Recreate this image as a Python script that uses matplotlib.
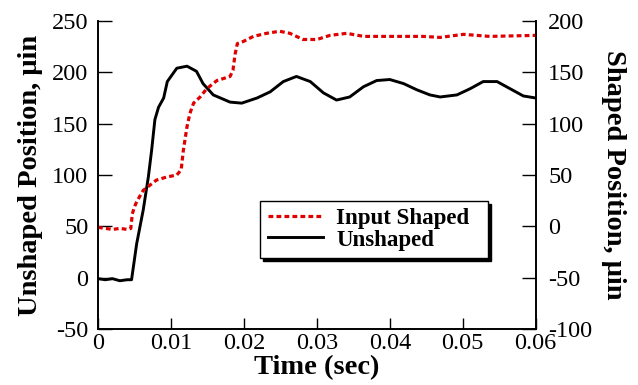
import matplotlib
matplotlib.use("Agg")
import matplotlib.pyplot as plt

plt.rcParams['font.family'] = ['Liberation Serif', 'DejaVu Serif']

# Unshaped response (left axis, micro-inches)
t_unshaped = [0, 0.001, 0.002, 0.003, 0.004, 0.0046, 0.0053, 0.0062, 0.0069, 0.00735,
              0.0078, 0.0083, 0.009, 0.0095, 0.0108, 0.0122, 0.0135, 0.0144, 0.0158,
              0.0181, 0.0197, 0.0218, 0.0236, 0.0254, 0.0272, 0.0291, 0.0309, 0.0327,
              0.0345, 0.0364, 0.0382, 0.04, 0.0419, 0.0437, 0.0455, 0.0469, 0.0492,
              0.051, 0.0528, 0.0547, 0.0565, 0.0583, 0.06]
y_unshaped = [-1, -2, -1, -3, -2, -2, 33, 66, 98, 124, 154, 166, 175, 191, 204, 206,
              201, 189, 178, 171, 170, 175, 181, 191, 196, 191, 180, 173, 176, 186,
              192, 193, 189, 183, 178, 176, 178, 184, 191, 191, 184, 177, 175]

# Input shaped response (right axis, micro-inches)
t_shaped = [0, 0.001, 0.002, 0.003, 0.004, 0.0045, 0.0047, 0.0050, 0.0053, 0.0062,
            0.0071, 0.0080, 0.0094, 0.0108, 0.0114, 0.0117, 0.0122, 0.0126, 0.0131,
            0.0140, 0.0149, 0.0163, 0.0181, 0.0185, 0.0188, 0.0191, 0.0199, 0.0213,
            0.0231, 0.0249, 0.0263, 0.0281, 0.0300, 0.0318, 0.0341, 0.0364, 0.0400,
            0.0446, 0.0469, 0.0501, 0.0537, 0.0600]
y_shaped = [-1, -2, -3, -2, -3, -2, 12, 19, 24, 35, 40, 45, 48, 50, 55, 74, 97, 110,
            120, 126, 134, 142, 146, 152, 168, 178, 180, 185, 188, 190, 188, 182, 182,
            186, 188, 185, 185, 185, 184, 187, 185, 186]

xticks = [0, 0.01, 0.02, 0.03, 0.04, 0.05, 0.06]
xtick_labels = ['0', '0.01', '0.02', '0.03', '0.04', '0.05', '0.06']
left_ticks = [-50, 0, 50, 100, 150, 200, 250]
right_ticks = [-100, -50, 0, 50, 100, 150, 200]

fig = plt.figure(figsize=(6.38, 3.85), dpi=100)
ax = fig.add_axes([98/638, 56/385, 437.7/638, 308/385])
ax2 = ax.twinx()

l_un, = ax.plot(t_unshaped, y_unshaped, color='black', lw=2.1, label='Unshaped')
l_sh, = ax2.plot(t_shaped, y_shaped, color='#e00000', lw=2.3, dashes=(1.5, 1.0),
                 label='Input Shaped')

ax.set_xlim(0, 0.06)
ax.set_ylim(-50, 250)
ax2.set_ylim(-100, 200)
ax.set_xticks(xticks)
ax.set_xticklabels(xtick_labels)
ax.set_yticks(left_ticks)
ax.set_yticklabels([str(v) for v in left_ticks])
ax2.set_yticks(right_ticks)
ax2.set_yticklabels([str(v) for v in right_ticks])

for a in (ax, ax2):
    a.spines['top'].set_visible(False)
    for s in a.spines.values():
        s.set_linewidth(1.2)
ax.tick_params(axis='x', direction='in', length=8, width=1.0, labelsize=17.5, pad=3)
ax.tick_params(axis='y', direction='in', length=10, width=1.0, labelsize=17.5, pad=7)
ax2.tick_params(axis='y', direction='in', length=10, width=1.0, labelsize=17.5, pad=9)

ax.set_xlabel('Time (sec)', fontsize=20.5, fontweight='bold', labelpad=1)
ax.set_ylabel('Unshaped Position, μin', fontsize=20.5, fontweight='bold', labelpad=6)
ax2.set_ylabel('Shaped Position, μin', fontsize=20.5, fontweight='bold', rotation=270,
               labelpad=24)

leg = ax2.legend([l_sh, l_un], ['Input Shaped  ', 'Unshaped'],
                 loc='upper left', bbox_to_anchor=(0.37, 0.416),
                 prop={'weight': 'bold', 'size': 16.5}, fancybox=False,
                 edgecolor='black', framealpha=1, borderpad=0.33,
                 labelspacing=0.0, handlelength=2.4, handletextpad=0.6,
                 borderaxespad=0, shadow={'color': 'black', 'alpha': 1})
leg.get_frame().set_linewidth(1.0)

fig.savefig('out.png', dpi=100)
